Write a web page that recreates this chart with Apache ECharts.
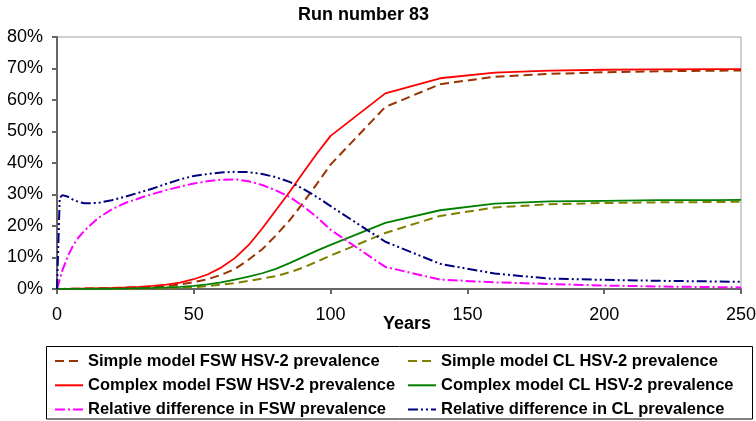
<!DOCTYPE html>
<html>
<head>
<meta charset="utf-8">
<script src="https://cdn.jsdelivr.net/npm/echarts@6/dist/echarts.min.js"></script>
<style>html,body{margin:0;padding:0;background:#fff;}#c{width:756px;height:421px;}</style>
</head>
<body>
<div id="c"></div>
<script>
const years = [0,1,2,4,6,8,10,15,20,25,30,35,40,45,50,55,60,65,70,75,80,85,90,95,100,120,140,160,180,200,220,240,250];
const simpleFSW = [0,0.02,0.03,0.05,0.08,0.1,0.13,0.19,0.26,0.36,0.5,0.7,0.96,1.4,2.2,3.1,4.5,6.3,9.3,12.6,17,21.8,27.4,33.4,39.5,57.8,65,67.4,68.3,68.8,69.1,69.3,69.4];
const simpleCL = [0,0,0.01,0.01,0.02,0.02,0.03,0.05,0.07,0.1,0.14,0.2,0.28,0.4,0.6,0.9,1.4,1.9,2.6,3.3,4.1,5.3,6.8,8.7,10.6,17.8,23.2,25.9,26.9,27.3,27.5,27.6,27.7];
const complexFSW = [0,0.02,0.04,0.07,0.1,0.13,0.16,0.25,0.35,0.5,0.7,1.0,1.4,2.0,3.1,4.6,6.8,9.8,13.9,19.2,25.0,30.8,37.0,43.0,48.6,62.1,66.9,68.7,69.3,69.6,69.7,69.8,69.8];
const complexCL = [0,0.01,0.01,0.02,0.03,0.04,0.05,0.08,0.12,0.17,0.25,0.35,0.5,0.7,1.0,1.5,2.1,3.0,3.9,5.0,6.4,8.2,10.2,12.2,14.0,21.0,25.0,27.1,27.8,28.0,28.2,28.2,28.3];
const relDiffFSW = [0,3,6,10.5,14,16.5,18.5,22.5,25.3,27.3,28.8,30.2,31.4,32.5,33.5,34.2,34.7,34.8,34.2,33,31.3,29.2,26.3,22.8,18.8,7,3,2.1,1.6,1.1,0.8,0.6,0.5];
const relDiffCL = [0,29,29.8,29.3,28.3,27.6,27.2,27.3,28.2,29.3,30.6,31.9,33.4,34.8,35.9,36.5,37,37.2,37.1,36.5,35.5,34,31.8,29.2,26.3,15,8,4.9,3.3,2.9,2.6,2.4,2.3];
const xTicks = {min: 0, max: 250, step: 50};
const yTicks = {min: 0, max: 80, step: 10};

const FONT = '"Liberation Sans", Arial, sans-serif';
const pairs = v => years.map((y, i) => [y, v[i]]);

const seriesDefs = [
  {name: 'Simple model FSW HSV-2 prevalence', data: simpleFSW, color: '#993300', type: [9,5], width: 2},
  {name: 'Simple model CL HSV-2 prevalence', data: simpleCL, color: '#808000', type: [9,5], width: 2},
  {name: 'Complex model FSW HSV-2 prevalence', data: complexFSW, color: '#FF0000', type: 'solid', width: 1.8},
  {name: 'Complex model CL HSV-2 prevalence', data: complexCL, color: '#008000', type: 'solid', width: 1.8},
  {name: 'Relative difference in FSW prevalence', data: relDiffFSW, color: '#FF00FF', type: [10,3,2,3], width: 2},
  {name: 'Relative difference in CL prevalence', data: relDiffCL, color: '#000080', type: [10,3,2,3,2,3], width: 2}
];

const chart = echarts.init(document.getElementById('c'), null, {renderer: 'canvas'});
const legendText = {fontSize: 16.5, fontWeight: 'bold', color: '#000', fontFamily: FONT, lineHeight: 16};
const legendCommon = {top: 352.5, orient: 'vertical', itemWidth: 28, itemHeight: 14, itemGap: 7.3, padding: 0,
  itemStyle: {opacity: 0}, textStyle: legendText};
chart.setOption({
  animation: false,
  backgroundColor: '#fff',
  textStyle: {fontFamily: FONT},
  grid: {left: 57, right: 15, top: 37, bottom: 132, show: true, borderColor: '#a0a0a0', borderWidth: 1, containLabel: false, outerBoundsMode: 'none'},
  xAxis: {
    type: 'value', min: xTicks.min, max: xTicks.max, interval: xTicks.step,
    axisLine: {show: true, lineStyle: {color: '#666', width: 2}},
    axisTick: {show: true, length: 5, lineStyle: {color: '#666', width: 2}},
    axisLabel: {fontSize: 18, color: '#000', margin: 17, fontFamily: FONT},
    splitLine: {show: false}
  },
  yAxis: {
    type: 'value', min: yTicks.min, max: yTicks.max, interval: yTicks.step,
    axisLine: {show: true, lineStyle: {color: '#666', width: 2}},
    axisTick: {show: true, length: 5, lineStyle: {color: '#666', width: 2}},
    axisLabel: {fontSize: 18, color: '#000', margin: 14, fontFamily: FONT, formatter: '{value}%'},
    splitLine: {show: false}
  },
  legend: [
    Object.assign({left: 54, data: [seriesDefs[0].name, seriesDefs[2].name, seriesDefs[4].name]}, legendCommon),
    Object.assign({left: 407, data: [seriesDefs[1].name, seriesDefs[3].name, seriesDefs[5].name]}, legendCommon)
  ],
  graphic: [
    {type: 'text', x: 363.5, y: 15, style: {text: 'Run number 83', font: 'bold 18px ' + FONT, fill: '#000', align: 'center', verticalAlign: 'middle'}},
    {type: 'text', x: 383, y: 324.5, style: {text: 'Years', font: 'bold 18px ' + FONT, fill: '#000', align: 'left', verticalAlign: 'middle'}},
    {type: 'rect', shape: {x: 46.5, y: 346.5, width: 706, height: 72.5}, style: {fill: 'none', stroke: '#000', lineWidth: 1}, silent: true}
  ],
  series: seriesDefs.map(s => ({
    name: s.name, type: 'line', data: pairs(s.data), symbol: 'none', showSymbol: false, smooth: false,
    lineStyle: {color: s.color, width: s.width, type: s.type},
    itemStyle: {color: s.color},
    emphasis: {disabled: true}
  }))
});
</script>
</body>
</html>
